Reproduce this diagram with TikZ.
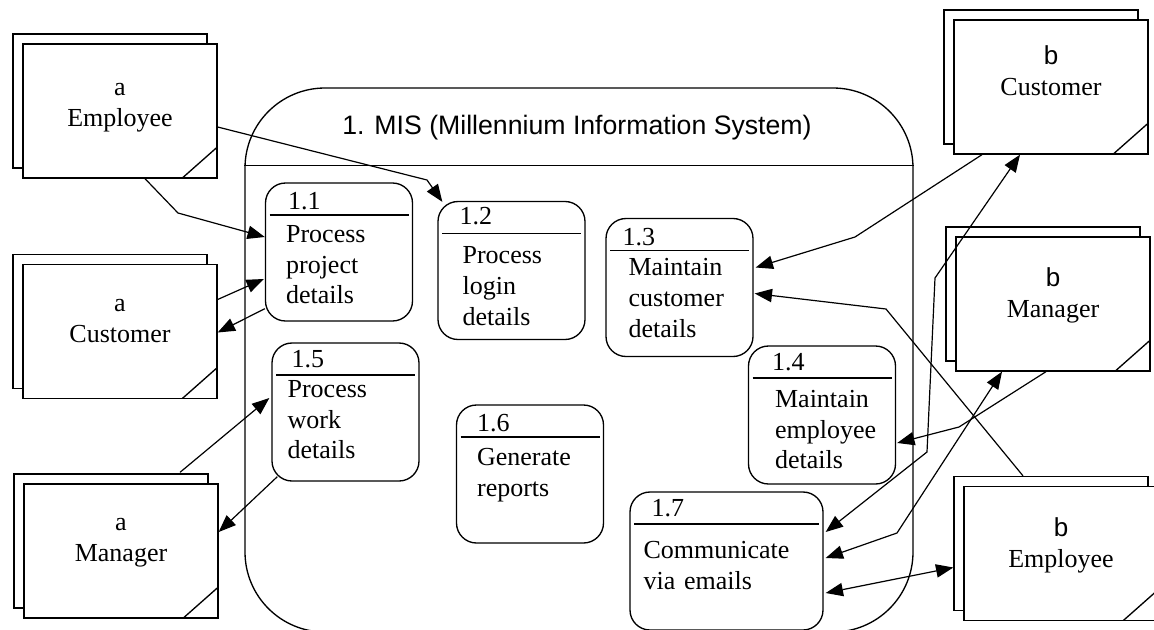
\documentclass[tikz,border=0pt]{standalone}
\usepackage{fontspec}
\setmainfont{Liberation Serif}
\newfontfamily\arialfont{Liberation Sans}
\usetikzlibrary{arrows.meta,shadows,calc}

\tikzset{
  entity/.style={draw, fill=white, line width=1pt, minimum width=145.5pt, minimum height=100.5pt, inner sep=0pt,
    copy shadow={shadow xshift=-7.5pt, shadow yshift=7.5pt, draw=black, fill=white, line width=1pt},
    path picture={\draw[line width=1pt] ([xshift=-26pt]path picture bounding box.south east) -- ([yshift=23pt]path picture bounding box.south east);}},
  etext/.style={align=center, text width=140pt, inner sep=0pt, anchor=base},
  proc/.style={draw, fill=white, line width=1pt, rounded corners=15pt, minimum width=110.25pt, minimum height=103.5pt, inner sep=0pt,
    path picture={\draw[line width=1pt] ([xshift=3pt,yshift=-24pt]path picture bounding box.north west) -- ([xshift=-3pt,yshift=-24pt]path picture bounding box.north east);}},
  pnum/.style={inner sep=0pt, anchor=base west},
  ptext/.style={inner sep=0pt, anchor=base west, text width=120pt, align=left},
  flow/.style={line width=0.9pt, -{Triangle[length=13pt,width=10pt]}},
  flow2/.style={line width=0.9pt, {Triangle[length=13pt,width=10pt]}-{Triangle[length=13pt,width=10pt]}}
}

\begin{document}
\begin{tikzpicture}[x=0.75pt, y=-0.75pt, font=\fontsize{19.5pt}{23pt}\selectfont]
	\useasboundingbox (0,0) rectangle (1154,629);

	% system boundary
	\node[draw, line width=1pt, rounded corners=60pt, minimum width=501pt, minimum height=408pt] (mis) at (579,360) {};
	\draw[line width=1pt] ($(mis.north west)+(0,78)$) -- ($(mis.north east)+(0,78)$);
	\node[font=\arialfont\fontsize{20pt}{23pt}\selectfont] (title) at (577,128) {1. MIS (Millennium Information System)};

	% external entities
	\node[entity] (aemp) at (120,111) {};
	\node[etext] (aempt) at ($(aemp.north)+(0,52)$) {a\\Employee};
	\node[entity] (acust) at (120,331.5) {};
	\node[etext] (acustt) at ($(acust.north)+(0,48)$) {a\\Customer};
	\node[entity] (amgr) at (121,551) {};
	\node[etext] (amgrt) at ($(amgr.north)+(0,47)$) {a\\Manager};
	\node[entity] (bcust) at (1051,87) {};
	\node[etext] (bcustt) at ($(bcust.north)+(0,45)$) {{\arialfont b}\\Customer};
	\node[entity] (bmgr) at (1053,304) {};
	\node[etext] (bmgrt) at ($(bmgr.north)+(0,50)$) {{\arialfont b}\\Manager};
	\node[entity] (bemp) at (1061,553.5) {};
	\node[etext] (bempt) at ($(bemp.north)+(0,51)$) {{\arialfont b}\\Employee};

	% processes
	\node[proc] (p11) at (339,252) {};
	\node[pnum] (n11) at ($(p11.north west)+(23,27)$) {1.1};
	\node[ptext] (t11) at ($(p11.north west)+(21,60)$) {Process\\project\\details};
	\node[proc] (p12) at (511.5,270.5) {};
	\node[pnum] (n12) at ($(p12.north west)+(22,24)$) {1.2};
	\node[ptext] (t12) at ($(p12.north west)+(25,63)$) {Process\\login\\details};
	\node[proc] (p13) at (679.5,287.5) {};
	\node[pnum] (n13) at ($(p13.north west)+(17,28)$) {1.3};
	\node[ptext] (t13) at ($(p13.north west)+(23,58)$) {Maintain\\customer\\details};
	\node[proc] (p14) at (822,415) {};
	\node[pnum] (n14) at ($(p14.north west)+(24,25)$) {1.4};
	\node[ptext] (t14) at ($(p14.north west)+(27,62)$) {Maintain\\employee\\details};
	\node[proc] (p15) at (345.5,412) {};
	\node[pnum] (n15) at ($(p15.north west)+(20,25)$) {1.5};
	\node[ptext] (t15) at ($(p15.north west)+(16,55)$) {Process\\work\\details};
	\node[proc] (p16) at (530,474) {};
	\node[pnum] (n16) at ($(p16.north west)+(21,27)$) {1.6};
	\node[ptext] (t16) at ($(p16.north west)+(21,61)$) {Generate\\reports};
	\node[proc, minimum width=144.75pt] (p17) at (726.5,561) {};
	\node[pnum] (n17) at ($(p17.north west)+(22,25)$) {1.7};
	\node[ptext] (t17) at ($(p17.north west)+(14,67)$) {Communicate\\via emails};

	% data flows
	\draw[flow] ($(aemp.south)+(25,0)$) -- (178,213) -- ($(p11.west)+(0,-15)$);
	\draw[flow] ($(aemp.east)+(0,16)$) -- (427,180) -- ($(p12.north west)+(5,1)$);
	\draw[flow] ($(acust.east)+(0,-32)$) -- ($(p11.west)+(-1,27)$);
	\draw[flow] ($(p11.south west)+(0,-13)$) -- ($(acust.east)+(0,1)$);
	\draw[flow] ($(amgr.north)+(59,-11)$) -- ($(p15.west)+(-2,-14)$);
	\draw[flow] ($(p15.south west)+(6,-5)$) -- ($(amgr.east)+(0,-19)$);
	\draw[flow] ($(bcust.south)+(-69,0)$) -- (855,237) -- ($(p13.east)+(2,-20)$);
	\draw[flow] ($(bemp.north)+(-38,-10)$) -- (886,309) -- ($(p13.east)+(1,6)$);
	\draw[flow] ($(bmgr.south)+(-7,0)$) -- (959,427) -- ($(p14.east)+(1,28)$);
	\draw[flow2] ($(p17.east)+(2,-29)$) -- (927,452) -- (935,278) -- ($(bcust.south)+(-31,0)$);
	\draw[flow2] ($(p17.east)+(2,-3)$) -- (897,533) -- ($(bmgr.south)+(-51,0)$);
	\draw[flow2] ($(p17.east)+(2,32)$) -- ($(bemp.west)+(-10,14)$);
\end{tikzpicture}
\end{document}
